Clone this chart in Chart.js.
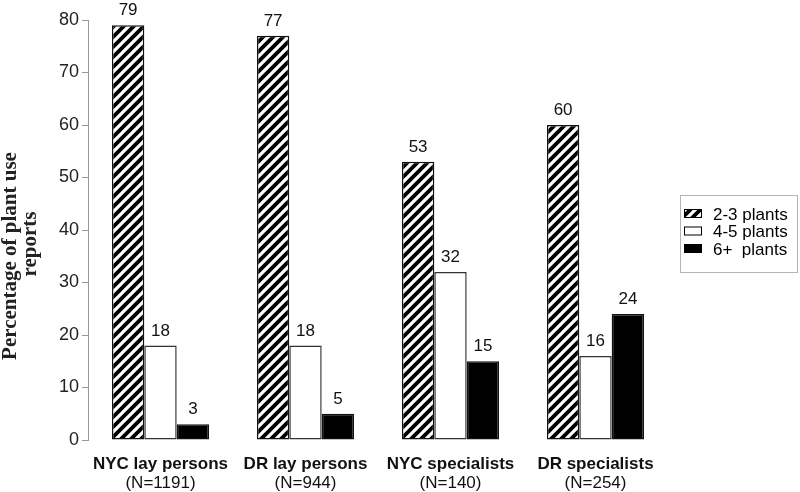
<!DOCTYPE html>
<html>
<head>
<meta charset="utf-8">
<script src="https://cdn.jsdelivr.net/npm/chart.js@4.4.1/dist/chart.umd.min.js"></script>
<style>
  html,body{margin:0;padding:0;background:#fff;}
  #wrap{width:800px;height:492px;}
</style>
</head>
<body>
<div id="wrap"><canvas id="chart" width="800" height="492"></canvas></div>
<script>
const groups = ["NYC lay persons","DR lay persons","NYC specialists","DR specialists"];
const groupN = ["(N=1191)","(N=944)","(N=140)","(N=254)"];
const seriesNames = ["2-3 plants","4-5 plants","6+  plants"];
const plants23 = [79,77,53,60];
const plants45 = [18,18,32,16];
const plants6 = [3,5,15,24];
const yTicks = [0,10,20,30,40,50,60,70,80];

// diagonal hatch for the 2-3 plants bars
function makeHatch(){
  const c=document.createElement("canvas");
  c.width=10;c.height=10;
  const g=c.getContext("2d");
  g.fillStyle="#fff";g.fillRect(0,0,10,10);
  g.strokeStyle="#000";g.lineWidth=3.8;
  g.beginPath();
  g.moveTo(-5,5);g.lineTo(5,-5);
  g.moveTo(0,10);g.lineTo(10,0);
  g.moveTo(5,15);g.lineTo(15,5);
  g.stroke();
  return g.createPattern(c,"repeat");
}
const hatch=makeHatch();
const fills=[hatch,"#ffffff","#000000"];

const extras={
  id:"extras",
  afterDatasetsDraw(chart){
    const ctx=chart.ctx;
    ctx.save();
    // value labels
    ctx.fillStyle="#111";
    ctx.font="17px Arial, 'Liberation Sans'";
    ctx.textAlign="center";
    ctx.textBaseline="bottom";
    chart.data.datasets.forEach((ds,di)=>{
      chart.getDatasetMeta(di).data.forEach((el,i)=>{
        ctx.fillText(ds.data[i],el.x,el.y-6);
      });
    });
    // category labels
    const xs=chart.scales.x;
    ctx.textBaseline="middle";
    groups.forEach((g,i)=>{
      const x=xs.getPixelForValue(i);
      ctx.font="bold 17px Arial, 'Liberation Sans'";
      ctx.fillText(g,x,464);
      ctx.font="17px Arial, 'Liberation Sans'";
      ctx.fillText(groupN[i],x,483);
    });
    // y title, two lines
    ctx.textBaseline="alphabetic";
    ctx.font="bold 21px 'Liberation Serif', 'Times New Roman'";
    ctx.fillStyle="#222";
    [["Percentage of plant use",16,256],["reports",36,244]].forEach(([t,x,y])=>{
      ctx.save();
      ctx.translate(x,y);
      ctx.rotate(-Math.PI/2);
      ctx.fillText(t,0,0);
      ctx.restore();
    });
    // legend
    ctx.strokeStyle="#b5b5b5";ctx.lineWidth=1;
    ctx.strokeRect(680.5,195.5,117,77);
    ctx.font="17px Arial, 'Liberation Sans'";
    ctx.textAlign="left";
    ctx.textBaseline="middle";
    seriesNames.forEach((s,i)=>{
      const y=213+i*17.5;
      ctx.fillStyle=fills[i];
      ctx.fillRect(684,y-4,18,9);
      ctx.strokeStyle="#000";ctx.lineWidth=1;
      ctx.strokeRect(684.5,y-3.5,17,8);
      ctx.fillStyle="#000";
      ctx.fillText(s,713,y+2);
    });
    ctx.restore();
  }
};

new Chart(document.getElementById("chart"),{
  type:"bar",
  data:{
    labels:groups,
    datasets:[
      {label:seriesNames[0],data:plants23,backgroundColor:fills[0],borderColor:"#111",borderWidth:1.5,borderSkipped:false},
      {label:seriesNames[1],data:plants45,backgroundColor:fills[1],borderColor:"#333",borderWidth:1.5,borderSkipped:false},
      {label:seriesNames[2],data:plants6,backgroundColor:fills[2],borderColor:"#111",borderWidth:1.5,borderSkipped:false}
    ]
  },
  options:{
    responsive:false,
    animation:false,
    layout:{padding:{top:20,right:132,bottom:52,left:0}},
    datasets:{bar:{categoryPercentage:0.67,barPercentage:1}},
    plugins:{legend:{display:false},tooltip:{enabled:false}},
    scales:{
      x:{display:false},
      y:{
        min:0,max:80,
        afterFit(s){s.width=88;},
        afterBuildTicks(s){s.ticks=yTicks.map(v=>({value:v}));},
        ticks:{color:"#222",font:{size:18,family:"Arial, 'Liberation Sans'"},padding:3},
        grid:{drawOnChartArea:false,color:"#999",tickLength:6},
        border:{color:"#999",width:1}
      }
    }
  },
  plugins:[extras]
});
</script>
</body>
</html>
